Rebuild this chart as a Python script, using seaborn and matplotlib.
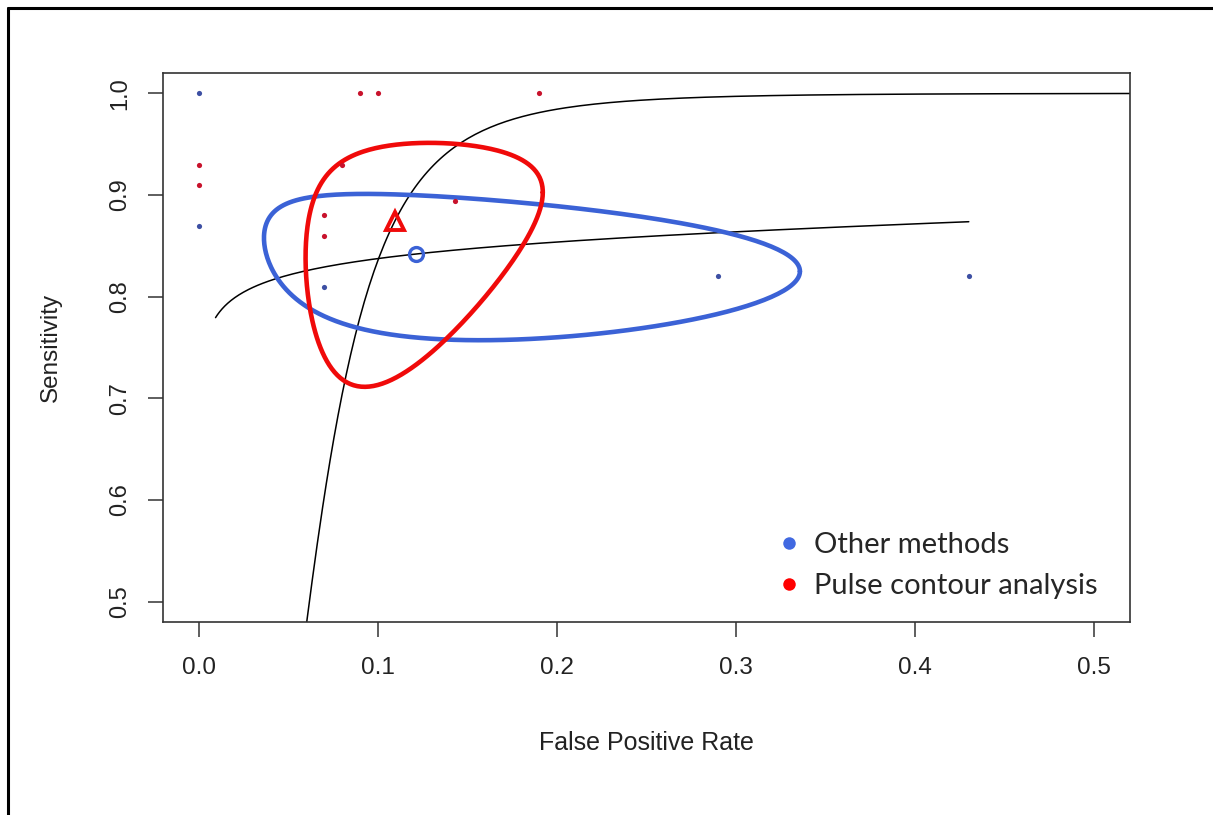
import numpy as np
import pandas as pd
import matplotlib
matplotlib.use("Agg")
import matplotlib.pyplot as plt
from matplotlib.lines import Line2D
import seaborn as sns

# --- study-level estimates (false positive rate, sensitivity) ---
other_fpr = [0.0, 0.0, 0.07, 0.29, 0.43]
other_sens = [1.0, 0.87, 0.81, 0.82, 0.82]
pulse_fpr = [0.0, 0.0, 0.07, 0.07, 0.08, 0.09, 0.10, 0.143, 0.19]
pulse_sens = [0.93, 0.91, 0.88, 0.86, 0.93, 1.0, 1.0, 0.894, 1.0]

# --- bivariate summary points ---
other_summary = [0.1216, 0.842]
pulse_summary = [0.1095, 0.874]

# --- confidence regions in logit space: half-width (fpr), half-height (sens), shape cosine ---
other_region = [1.295, 0.536, -0.23]
pulse_region = [0.66, 1.035, 0.28]

# --- SROC slopes in logit space and fpr ranges drawn ---
other_sroc_slope = 0.154
other_sroc_range = [0.0095, 0.43]
pulse_sroc_slope = 3.11
pulse_sroc_range = [0.045, 0.52]

group_names = ["Other methods", "Pulse contour analysis"]

x_ticks = [0.0, 0.1, 0.2, 0.3, 0.4, 0.5]
y_ticks = [0.5, 0.6, 0.7, 0.8, 0.9, 1.0]


def logit(p):
    p = np.asarray(p, dtype=float)
    return np.log(p / (1 - p))


def expit(z):
    return 1 / (1 + np.exp(-z))


def region_frame(center, region, n=300):
    a, b, c = region
    phi = np.arccos(c)
    t = np.linspace(0, 2 * np.pi, n)
    lx = logit(center[0]) + a * np.cos(t)
    ly = logit(center[1]) + b * np.cos(t + phi)
    return pd.DataFrame({"fpr": expit(lx), "sens": expit(ly), "order": np.arange(n)})


def sroc_frame(center, slope, rng, n=200):
    lx = np.linspace(logit(rng[0]), logit(rng[1]), n)
    ly = logit(center[1]) + slope * (lx - logit(center[0]))
    return pd.DataFrame({"fpr": expit(lx), "sens": expit(ly)})


sns.set_theme(style="white")
plt.rcParams["font.family"] = ["Liberation Sans", "DejaVu Sans"]

W, H = 1213, 815
fig = plt.figure(figsize=(W / 100, H / 100), dpi=100)
ax = fig.add_axes([162.7 / W, (H - 622) / H, (1130 - 162.7) / W, (622 - 73) / H])

blue_line = "#3b62d6"
red_line = "#f00a0a"
blue_dot = "#3d4fa3"
red_dot = "#c8122c"

# SROC curves
sns.lineplot(data=sroc_frame(pulse_summary, pulse_sroc_slope, pulse_sroc_range),
             x="fpr", y="sens", sort=False, estimator=None, color="black",
             linewidth=1.1, ax=ax, zorder=2)
sns.lineplot(data=sroc_frame(other_summary, other_sroc_slope, other_sroc_range),
             x="fpr", y="sens", sort=False, estimator=None, color="black",
             linewidth=1.1, ax=ax, zorder=2)

# confidence regions
sns.lineplot(data=region_frame(other_summary, other_region), x="fpr", y="sens",
             sort=False, estimator=None, color=blue_line, linewidth=3.3, ax=ax, zorder=3)
sns.lineplot(data=region_frame(pulse_summary, pulse_region), x="fpr", y="sens",
             sort=False, estimator=None, color=red_line, linewidth=3.3, ax=ax, zorder=4)

# study estimates
sns.scatterplot(x=other_fpr, y=other_sens, color=blue_dot, s=14, linewidth=0, ax=ax, zorder=5)
sns.scatterplot(x=pulse_fpr, y=pulse_sens, color=red_dot, s=14, linewidth=0, ax=ax, zorder=5)

# summary points
ax.plot([other_summary[0]], [other_summary[1]], marker="o", markersize=10,
        markerfacecolor="none", markeredgecolor=blue_line, markeredgewidth=2.4, zorder=6)
ax.plot([pulse_summary[0]], [pulse_summary[1]], marker="^", markersize=13,
        markerfacecolor="none", markeredgecolor=red_line, markeredgewidth=2.8, zorder=6)

ax.set_xlim(-0.02, 0.52)
ax.set_ylim(0.48, 1.02)
ax.set_xticks(x_ticks)
ax.set_yticks(y_ticks)
ax.set_xticklabels([f"{v:.1f}" for v in x_ticks], fontsize=17.5)
ax.set_yticklabels([f"{v:.1f}" for v in y_ticks], fontsize=17, rotation=90, va="center")
ax.tick_params(axis="both", direction="out", length=11, width=1.1, color="#333333",
               labelcolor="#222222", bottom=True, left=True)
ax.tick_params(axis="x", pad=14)
ax.tick_params(axis="y", pad=12)
for sp in ax.spines.values():
    sp.set_visible(True)
    sp.set_color("#333333")
    sp.set_linewidth(1.2)

ax.set_xlabel("False Positive Rate", fontsize=18, color="#222222", labelpad=38)
ax.set_ylabel("Sensitivity", fontsize=17.5, color="#222222", labelpad=34)

handles = [
    Line2D([], [], linestyle="none", marker="o", markersize=9,
           markerfacecolor="#4169e1", markeredgecolor="none"),
    Line2D([], [], linestyle="none", marker="o", markersize=9,
           markerfacecolor="#ff0000", markeredgecolor="none"),
]
ax.legend(handles, group_names, loc="upper left",
          bbox_to_anchor=(751 / W, (H - 506) / H), bbox_transform=fig.transFigure,
          frameon=False, handlelength=0.8, handletextpad=0.45, labelspacing=0.5,
          prop={"family": ["Lato", "DejaVu Sans"], "size": 21})

# outer frame
fig.add_artist(Line2D([8 / W, 8 / W], [0, 1 - 8 / H], transform=fig.transFigure,
                      color="black", linewidth=2.2))
fig.add_artist(Line2D([8 / W, 1], [1 - 8 / H, 1 - 8 / H], transform=fig.transFigure,
                      color="black", linewidth=2.2))

fig.savefig("out.png", dpi=100, facecolor="white")
